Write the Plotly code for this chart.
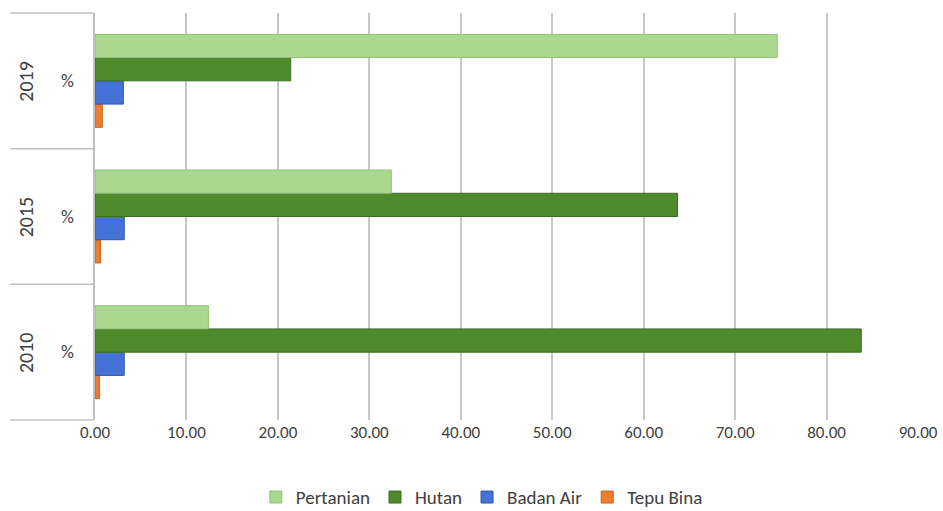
import plotly.graph_objects as go

# data (percent of land area)
tahun = ['2010', '2015', '2019']
pertanian = [12.4, 32.4, 74.6]
hutan = [83.8, 63.7, 21.4]
badan_air = [3.2, 3.2, 3.1]
tepu_bina = [0.5, 0.6, 0.8]

# drawn bottom-up inside each group, legend reversed back to reading order
series = [
  ('Tepu Bina', tepu_bina, '#ed7d31', '#c8641f'),
  ('Badan Air', badan_air, '#4472d6', '#3358a8'),
  ('Hutan', hutan, '#4f8a2c', '#3d6d22'),
  ('Pertanian', pertanian, '#a9d88e', '#92c078'),
]

fig = go.Figure()
for nama, nilai, warna, garis in series:
  fig.add_trace(go.Bar(y=tahun, x=nilai, name=nama, orientation='h',
                       marker=dict(color=warna, line=dict(color=garis, width=1))))

font_teks = 'Calibri, Carlito, Lato, sans-serif'

fig.update_layout(
  width=943, height=511,
  margin=dict(l=95, r=25, t=13, b=91),
  paper_bgcolor='white', plot_bgcolor='white',
  barmode='group', bargap=0.315, bargroupgap=0,
  font=dict(family=font_teks, size=17, color='#404040'),
  legend=dict(orientation='h', traceorder='reversed', x=0.47, xanchor='center',
              yref='container', y=0.027, yanchor='middle',
              font=dict(size=19, color='#404040'), itemwidth=30),
)

fig.update_xaxes(range=[0, 90], dtick=10, tickformat='.2f', showgrid=True,
                 gridcolor='#c8c8c8', gridwidth=1.5, zeroline=False,
                 showline=False, ticks='', tickfont=dict(size=17, color='#404040'),
                 automargin=False, fixedrange=True)
fig.update_yaxes(type='category', categoryorder='array', categoryarray=tahun,
                 range=[-0.5, len(tahun) - 0.5], automargin=False, fixedrange=True,
                 showticklabels=False, showgrid=False, zeroline=False,
                 showline=True, linecolor='#bfbfbf', linewidth=1.5, ticks='')

# two-level category labels on the left: year (rotated) and "%"
for i, t in enumerate(tahun):
  fig.add_annotation(x=-0.084, xref='paper', xanchor='center', y=i, yref='y',
                     text=t, textangle=-90, showarrow=False,
                     font=dict(size=20, color='#404040'))
  fig.add_annotation(x=-0.033, xref='paper', xanchor='center', y=i, yref='y',
                     text='%', showarrow=False, font=dict(size=18, color='#404040'))

# separators between the category groups
for k in range(len(tahun) + 1):
  fig.add_shape(type='line', xref='paper', yref='paper',
                x0=-0.103, x1=-0.002, y0=k / len(tahun), y1=k / len(tahun),
                line=dict(color='#bfbfbf', width=1.5))

# drop the browser's default page margin so the figure sits at the corner
fig.write_html('out.html', config={'displayModeBar': False},
               post_script="document.body.style.margin='0';")
